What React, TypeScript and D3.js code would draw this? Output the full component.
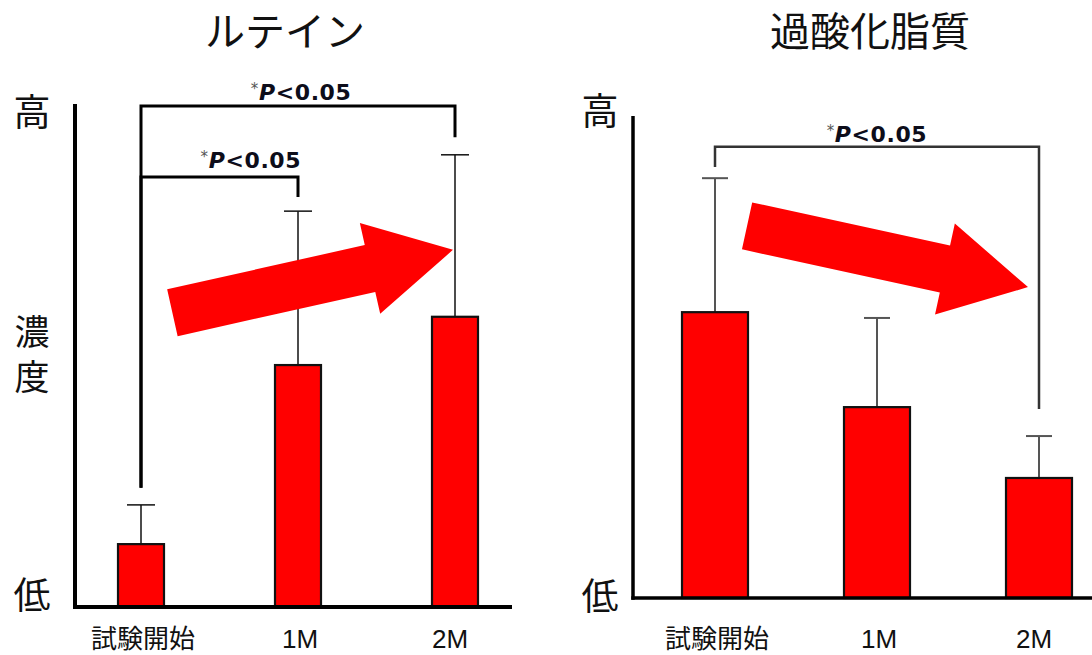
import React from "react";
import * as d3 from "d3";

// ---- data (relative units 0..100 between 低 and 高) ----
const categories = ["試験開始", "1M", "2M"];
const titles = ["ルテイン", "過酸化脂質"];

const luteinMean = [12.5, 48.1, 57.7];
const luteinErr = [7.8, 30.6, 32.2];
const lipidMean = [59.3, 39.6, 24.9];
const lipidErr = [27.8, 18.5, 8.7];

// significance brackets: [fromIdx, toIdx, topValue, fromLegEnd, toLegEnd, labelIdx, labelValue]
const luteinBrackets = [
  [0, 2, 99.6, 23.7, 93.4, 1.02, 100.8],
  [0, 1, 85.5, 23.7, 81.5, 0.7, 87.3],
];
const lipidBrackets = [[0, 2, 93.6, 89.4, 39.2, 1.0, 94.6]];

// trend arrows: [tailIdx, tailValue, tipIdx, tipValue]
const luteinArrow = [0.2, 58.5, 1.987, 71.0];
const lipidArrow = [0.198, 77.2, 1.932, 64.5];

const sigLabel = "P<0.05";

const CJK = "'Noto Sans CJK JP', sans-serif";
const LATIN = "'Liberation Sans', 'Noto Sans CJK JP', sans-serif";

type YLabel = { t: string; y: number; s: number; vertical?: boolean };

type PanelCfg = {
  title: string;
  titleX: number;
  mean: number[];
  err: number[];
  brackets: number[][];
  arrow: number[];
  axisX: number;
  axisRight: number;
  baseline: number;
  top: number;
  xRange: [number, number];
  barW: number;
  capW: number;
  errColor: string;
  errW: number;
  brColor: string;
  brW: number;
  axisW: number;
  labelX: number;
  yLabels: YLabel[];
};

function arrowPath(x0: number, y0: number, x1: number, y1: number) {
  const shaftW = 48, headW = 93, headL = 85;
  const dx = x1 - x0, dy = y1 - y0;
  const len = Math.hypot(dx, dy);
  const ux = dx / len, uy = dy / len;
  const nx = -uy, ny = ux;
  const bx = x1 - ux * headL, by = y1 - uy * headL;
  const pts: [number, number][] = [
    [x0 + nx * shaftW / 2, y0 + ny * shaftW / 2],
    [bx + nx * shaftW / 2, by + ny * shaftW / 2],
    [bx + nx * headW / 2, by + ny * headW / 2],
    [x1, y1],
    [bx - nx * headW / 2, by - ny * headW / 2],
    [bx - nx * shaftW / 2, by - ny * shaftW / 2],
    [x0 - nx * shaftW / 2, y0 - ny * shaftW / 2],
  ];
  return d3.line()(pts) + "Z";
}

function Panel({ c }: { c: PanelCfg }) {
  const x = d3.scaleLinear().domain([0, categories.length - 1]).range(c.xRange);
  const y = d3.scaleLinear().domain([0, 100]).range([c.baseline, c.top]);
  const [ta, tv, pa, pv] = c.arrow;
  return (
    <g>
      <text x={c.titleX} y={46} fontFamily={CJK} fontSize={40} textAnchor="middle" fill="#111">
        {c.title}
      </text>
      {c.yLabels.map((l, i) =>
        l.vertical ? (
          <text
            key={i}
            x={c.labelX}
            y={l.y}
            fontFamily={CJK}
            fontSize={l.s}
            style={{ writingMode: "vertical-rl" }}
            letterSpacing={10}
            fill="#111"
          >
            {l.t}
          </text>
        ) : (
          <text key={i} x={c.labelX} y={l.y} fontFamily={CJK} fontSize={l.s} textAnchor="middle" fill="#111">
            {l.t}
          </text>
        )
      )}
      {/* error bars */}
      {c.mean.map((m, i) => (
        <g key={"e" + i} stroke={c.errColor} strokeWidth={c.errW}>
          <line x1={x(i)} x2={x(i)} y1={y(m)} y2={y(m + c.err[i])} />
          <line x1={x(i) - c.capW / 2} x2={x(i) + c.capW / 2} y1={y(m + c.err[i])} y2={y(m + c.err[i])} />
        </g>
      ))}
      {/* bars */}
      {c.mean.map((m, i) => (
        <rect
          key={"b" + i}
          x={x(i) - c.barW / 2}
          y={y(m)}
          width={c.barW}
          height={y(0) - y(m)}
          fill="#ff0000"
          stroke="#111"
          strokeWidth={2.2}
        />
      ))}
      {/* brackets */}
      {c.brackets.map((b, i) => {
        const [f, t, top, fe, te, lx, lv] = b;
        return (
          <g key={"br" + i}>
            <path
              d={`M${x(f)},${y(fe)}V${y(top)}H${x(t)}V${y(te)}`}
              fill="none"
              stroke={c.brColor}
              strokeWidth={c.brW}
              strokeLinejoin="miter"
            />
            <text x={x(lx)} y={y(lv)} textAnchor="middle" fontFamily="'DejaVu Sans', Verdana, sans-serif" fontWeight="bold" fontSize={22} letterSpacing={0.6} fill="#0d0d1a">
              <tspan fontSize={15} fill="#555" fontWeight="normal" dy={-6}>*</tspan>
              <tspan fontStyle="italic" dy={6}>{sigLabel[0]}</tspan>
              <tspan>{sigLabel.slice(1)}</tspan>
            </text>
          </g>
        );
      })}
      {/* axes */}
      <line x1={c.axisX} x2={c.axisX} y1={c.top} y2={c.baseline + c.axisW / 2} stroke="#000" strokeWidth={c.axisW} />
      <line x1={c.axisX - c.axisW / 2} x2={c.axisRight} y1={c.baseline} y2={c.baseline} stroke="#000" strokeWidth={c.axisW} />
      {categories.map((cat, i) => (
        <text key={"c" + i} x={x(i) + (i === 2 ? -5 : 2)} y={648} textAnchor="middle" fontFamily={LATIN} fontSize={26} fill="#111">
          {cat}
        </text>
      ))}
      {/* trend arrow */}
      <path d={arrowPath(x(ta), y(tv), x(pa), y(pv))} fill="#ff0000" />
    </g>
  );
}

export default function App() {
  const left: PanelCfg = {
    title: titles[0],
    titleX: 285,
    mean: luteinMean,
    err: luteinErr,
    brackets: luteinBrackets,
    arrow: luteinArrow,
    axisX: 75,
    axisRight: 512,
    baseline: 607,
    top: 104,
    xRange: [141, 455],
    barW: 46,
    capW: 28,
    errColor: "#111",
    errW: 1.5,
    brColor: "#000",
    brW: 3,
    axisW: 4,
    labelX: 32,
    yLabels: [
      { t: "高", y: 126, s: 37 },
      { t: "濃度", y: 314, s: 35, vertical: true },
      { t: "低", y: 609, s: 37 },
    ],
  };
  const right: PanelCfg = {
    title: titles[1],
    titleX: 870,
    mean: lipidMean,
    err: lipidErr,
    brackets: lipidBrackets,
    arrow: lipidArrow,
    axisX: 633,
    axisRight: 1092,
    baseline: 598,
    top: 116,
    xRange: [715, 1039],
    barW: 66,
    capW: 26,
    errColor: "#555",
    errW: 2,
    brColor: "#333",
    brW: 2.5,
    axisW: 3.5,
    labelX: 600,
    yLabels: [
      { t: "高", y: 125, s: 37 },
      { t: "低", y: 610, s: 37 },
    ],
  };
  return (
    <svg
      width={1092}
      height={655}
      style={{ position: "absolute", left: 0, top: 0, background: "#fff" }}
    >
      <rect width={1092} height={655} fill="#fff" />
      <Panel c={left} />
      <Panel c={right} />
    </svg>
  );
}
